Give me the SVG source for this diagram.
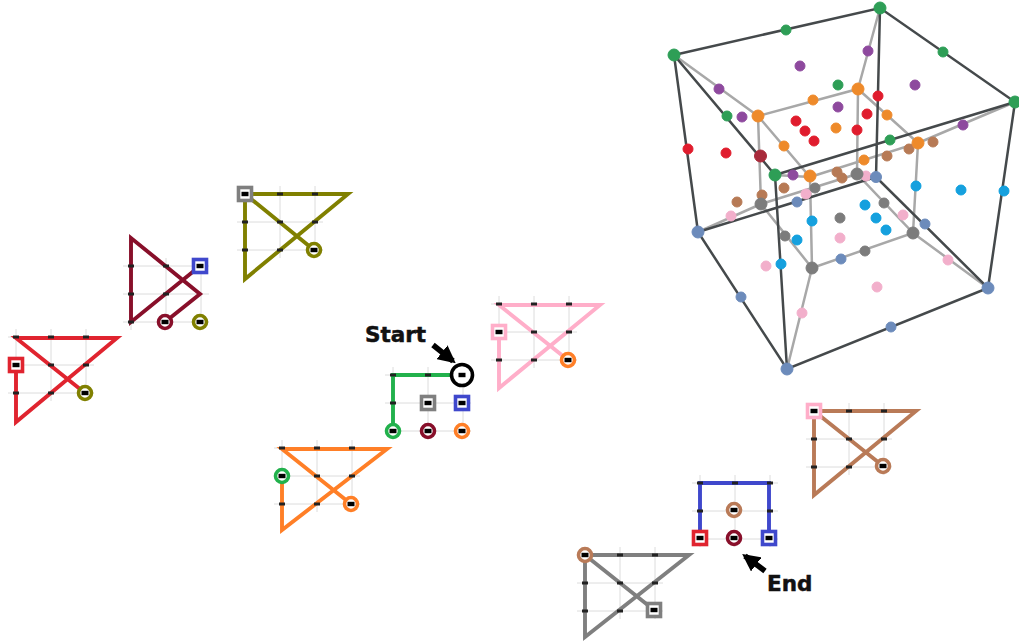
<svg xmlns="http://www.w3.org/2000/svg" width="1019" height="643" viewBox="0 0 1019 643">
<style>
.grid{fill:none;stroke:#dcdcdc;stroke-width:1}
.ticks{fill:none;stroke:#222;stroke-width:3}
.tr{fill:none;stroke-width:3.9;stroke-linejoin:miter;stroke-linecap:butt}
.ring{fill:#fff;stroke-width:3.6}
.c{fill:#000}
.red{stroke:#E0242F}.dred{stroke:#880F2A}.oli{stroke:#808000}.blu{stroke:#3F48CC}.grn{stroke:#22B14C}.org{stroke:#FF7F27}.pnk{stroke:#FFAEC9}.bro{stroke:#B97A57}.gry{stroke:#7F7F7F}.blk{stroke:#000}
.out{fill:none;stroke:#454a4c;stroke-width:2.5}
.inn{fill:none;stroke:#a8a8a8;stroke-width:2.5}
.arrow{fill:none;stroke:#000;stroke-width:5.5;marker-end:url(#head)}
.dg{fill:#2E9E57;stroke:#2E9E57}.dp{fill:#8E4A9E;stroke:#8E4A9E}.dr{fill:#E01F2D;stroke:#E01F2D}.do{fill:#EE8A2C;stroke:#EE8A2C}.db{fill:#B77A55;stroke:#B77A55}.dy{fill:#7C7C7C;stroke:#7C7C7C}.di{fill:#F2AFCB;stroke:#F2AFCB}.ds{fill:#6C8BBB;stroke:#6C8BBB}.dc{fill:#12A0DE;stroke:#12A0DE}.dd{fill:#A82A3A;stroke:#A82A3A}
#cube-vertices{stroke-width:1}
text{font-family:"DejaVu Sans",sans-serif;font-weight:bold;font-size:21.5px;fill:#111;stroke:#111;stroke-width:.5}
</style>
<defs>
<marker id="head" viewBox="0 0 10 10" refX="8" refY="5" markerWidth="3.2" markerHeight="3.2" orient="auto"><path d="M0 0L10 5L0 10Z" fill="#000"/></marker>
<filter id="soft" x="-5%" y="-5%" width="110%" height="110%"><feGaussianBlur stdDeviation="0.45"/></filter>
<path id="g" d="M-8 0H78M-8 28H78M-8 56H78M0 -8V64M35 -8V64M70 -8V64"/>
<path id="t" d="M-3 0h6M32 0h6M67 0h6M-3 28h6M32 28h6M67 28h6M-3 56h6M32 56h6M67 56h6"/>
<rect id="m" x="-3.5" y="-2.2" width="7" height="4.4"/>
<circle id="o" r="6.5"/>
<rect id="q" x="-6.5" y="-6.5" width="13" height="13"/>
</defs>
<rect width="1019" height="643" fill="#fff"/>
<g id="connectors">
<g id="cube-edges" filter="url(#soft)">
<path class="inn" d="M674 55L758 116M880 8L858 89M1015 102L918 143M775 175L810 177M698 232L761 204M787 369L812 268M988 288L913 233M876 177L857 174"/>
<path class="inn" d="M758 116L858 89L918 143L810 177ZM761 204L857 174L913 233L812 268ZM758 116L761 204M858 89L857 174M918 143L913 233M810 177L812 268"/>
<path class="out" d="M674 55L880 8L1015 102L775 175ZM698 232L876 177L988 288L787 369ZM674 55L698 232M880 8L876 177M1015 102L988 288M775 175L787 369"/>
</g>
<path id="arrow-start" class="arrow" d="M433 345L453 361"/>
<path id="arrow-end" class="arrow" d="M765 571L745 556"/>
</g>
<g id="cube-vertices" filter="url(#soft)">
<g id="g1" class="dg"><circle cx="674" cy="55" r="6"/></g><g id="g2" class="dg"><circle cx="880" cy="8" r="6"/></g><g id="g3" class="dg"><circle cx="1015" cy="102" r="6"/></g><g id="g4" class="dg"><circle cx="775" cy="175" r="6"/></g><g id="g5" class="dg"><circle cx="786" cy="30" r="5"/></g><g id="g6" class="dg"><circle cx="943" cy="52" r="5"/></g><g id="g7" class="dg"><circle cx="727" cy="116" r="5"/></g><g id="g8" class="dg"><circle cx="890" cy="140" r="5"/></g><g id="g9" class="dg"><circle cx="838" cy="85" r="5"/></g>
<g id="p1" class="dp"><circle cx="800" cy="66" r="5"/></g><g id="p2" class="dp"><circle cx="868" cy="51" r="5"/></g><g id="p3" class="dp"><circle cx="719" cy="89" r="5"/></g><g id="p4" class="dp"><circle cx="742" cy="117" r="5"/></g><g id="p5" class="dp"><circle cx="838" cy="107" r="5"/></g><g id="p6" class="dp"><circle cx="915" cy="85" r="5"/></g><g id="p7" class="dp"><circle cx="963" cy="125" r="5"/></g><g id="p8" class="dp"><circle cx="793" cy="175" r="5"/></g>
<g id="r1" class="dr"><circle cx="688" cy="149" r="5"/></g><g id="r2" class="dr"><circle cx="726" cy="153" r="5"/></g><g id="r3" class="dd"><circle cx="760.5" cy="156" r="6"/></g><g id="r4" class="dr"><circle cx="796" cy="121" r="5"/></g><g id="r5" class="dr"><circle cx="805" cy="131" r="5"/></g><g id="r6" class="dr"><circle cx="814" cy="141" r="5"/></g><g id="r7" class="dr"><circle cx="867" cy="114" r="5"/></g><g id="r8" class="dr"><circle cx="857" cy="130" r="5"/></g><g id="r9" class="dr"><circle cx="878" cy="96" r="5"/></g>
<g id="b1" class="db"><circle cx="933" cy="142" r="5"/></g><g id="b2" class="db"><circle cx="909" cy="149" r="5"/></g><g id="b3" class="db"><circle cx="887" cy="156" r="5"/></g><g id="b4" class="db"><circle cx="837" cy="172" r="5"/></g><g id="b5" class="db"><circle cx="842" cy="178" r="5"/></g><g id="b6" class="db"><circle cx="784" cy="188" r="5"/></g><g id="b7" class="db"><circle cx="737" cy="202" r="5"/></g><g id="b8" class="db"><circle cx="762" cy="195" r="5"/></g>
<g id="o1" class="do"><circle cx="758" cy="116" r="6"/></g><g id="o2" class="do"><circle cx="858" cy="89" r="6"/></g><g id="o3" class="do"><circle cx="813" cy="100" r="5"/></g><g id="o4" class="do"><circle cx="887" cy="115" r="5"/></g><g id="o5" class="do"><circle cx="784" cy="146" r="5"/></g><g id="o6" class="do"><circle cx="836" cy="128" r="5"/></g><g id="o7" class="do"><circle cx="810" cy="176" r="6"/></g><g id="o8" class="do"><circle cx="864" cy="160" r="5"/></g><g id="o9" class="do"><circle cx="918" cy="143" r="6"/></g>
<g id="i1" class="di"><circle cx="866" cy="176" r="5"/></g><g id="i2" class="di"><circle cx="806" cy="194" r="5"/></g><g id="i3" class="di"><circle cx="731" cy="216" r="5"/></g><g id="i4" class="di"><circle cx="903" cy="215" r="5"/></g><g id="i5" class="di"><circle cx="840" cy="238" r="5"/></g><g id="i6" class="di"><circle cx="766" cy="266" r="5"/></g><g id="i7" class="di"><circle cx="948" cy="260" r="5"/></g><g id="i8" class="di"><circle cx="877" cy="287" r="5"/></g><g id="i9" class="di"><circle cx="802" cy="313" r="5"/></g>
<g id="y1" class="dy"><circle cx="857" cy="174" r="6"/></g><g id="y2" class="dy"><circle cx="815" cy="188" r="5"/></g><g id="y3" class="dy"><circle cx="761" cy="204" r="6"/></g><g id="y4" class="dy"><circle cx="884" cy="203" r="5"/></g><g id="y5" class="dy"><circle cx="840" cy="218" r="5"/></g><g id="y6" class="dy"><circle cx="785" cy="236" r="5"/></g><g id="y7" class="dy"><circle cx="865" cy="251" r="5"/></g><g id="y8" class="dy"><circle cx="913" cy="233" r="6"/></g><g id="y9" class="dy"><circle cx="812" cy="268" r="6"/></g>
<g id="s1" class="ds"><circle cx="876" cy="177" r="5.5"/></g><g id="s2" class="ds"><circle cx="797" cy="202" r="5"/></g><g id="s3" class="ds"><circle cx="698" cy="232" r="6"/></g><g id="s4" class="ds"><circle cx="925" cy="224" r="5"/></g><g id="s5" class="ds"><circle cx="841" cy="259" r="5"/></g><g id="s6" class="ds"><circle cx="741" cy="297" r="5"/></g><g id="s7" class="ds"><circle cx="891" cy="327" r="5"/></g><g id="s8" class="ds"><circle cx="988" cy="288" r="6"/></g><g id="s9" class="ds"><circle cx="787" cy="369" r="6"/></g>
<g id="c1" class="dc"><circle cx="916" cy="186" r="5"/></g><g id="c2" class="dc"><circle cx="961" cy="190" r="5"/></g><g id="c3" class="dc"><circle cx="1004" cy="191" r="5"/></g><g id="c4" class="dc"><circle cx="865" cy="205" r="5"/></g><g id="c5" class="dc"><circle cx="812" cy="221" r="5"/></g><g id="c6" class="dc"><circle cx="876" cy="218" r="5"/></g><g id="c7" class="dc"><circle cx="886" cy="230" r="5"/></g><g id="c8" class="dc"><circle cx="797" cy="240" r="5"/></g><g id="c9" class="dc"><circle cx="781" cy="264" r="5"/></g>
</g>
<g id="panel-red" transform="translate(16 337)">
<use href="#g" class="grid"/><path class="tr red" d="M0 28V85L101 1H0L69 56"/><use href="#t" class="ticks"/>
<use href="#q" x="0" y="28" class="ring red"/><use href="#m" x="0" y="28" class="c"/><use href="#o" x="69" y="56" class="ring oli"/><use href="#m" x="69" y="56" class="c"/>
</g>
<g id="panel-darkred" transform="translate(131 266)">
<use href="#g" class="grid"/><path class="tr dred" d="M69 0L0 56V-28L69 28L34 56"/><path class="ticks" d="M-3 0h6M32 0h6M-3 28h6M32 28h6M-3 56h6"/>
<use href="#q" x="69" y="0" class="ring blu"/><use href="#m" x="69" y="0" class="c"/><use href="#o" x="34" y="56" class="ring dred"/><use href="#m" x="34" y="56" class="c"/><use href="#o" x="69" y="56" class="ring oli"/><use href="#m" x="69" y="56" class="c"/>
</g>
<g id="panel-olive" transform="translate(245 194)">
<use href="#g" class="grid"/><path class="tr oli" d="M0 0H103L0 85V0L69 56"/><use href="#t" class="ticks"/>
<use href="#q" class="ring gry"/><use href="#m" class="c"/><use href="#o" x="69" y="56" class="ring oli"/><use href="#m" x="69" y="56" class="c"/>
</g>
<g id="panel-green" transform="translate(393 375)">
<use href="#g" class="grid"/><path class="tr grn" d="M69 0H0V56"/><use href="#t" class="ticks"/>
<circle cx="69" cy="0" r="10.5" class="ring blk"/><use href="#m" x="69" class="c"/>
<use href="#q" x="35" y="28" class="ring gry"/><use href="#m" x="35" y="28" class="c"/><use href="#q" x="69" y="28" class="ring blu"/><use href="#m" x="69" y="28" class="c"/>
<use href="#o" x="0" y="56" class="ring grn"/><use href="#m" x="0" y="56" class="c"/><use href="#o" x="35" y="56" class="ring dred"/><use href="#m" x="35" y="56" class="c"/><use href="#o" x="69" y="56" class="ring org"/><use href="#m" x="69" y="56" class="c"/>
</g>
<g id="panel-orange" transform="translate(282 448)">
<use href="#g" class="grid"/><path class="tr org" d="M0 28V82L105 1H0L69 56"/><use href="#t" class="ticks"/>
<use href="#o" x="0" y="28" class="ring grn"/><use href="#m" x="0" y="28" class="c"/><use href="#o" x="69" y="56" class="ring org"/><use href="#m" x="69" y="56" class="c"/>
</g>
<g id="panel-pink" transform="translate(499 304)">
<use href="#g" class="grid"/><path class="tr pnk" d="M0 28V84L101 1H0L69 56"/><use href="#t" class="ticks"/>
<use href="#q" x="0" y="28" class="ring pnk"/><use href="#m" x="0" y="28" class="c"/><use href="#o" x="69" y="56" class="ring org"/><use href="#m" x="69" y="56" class="c"/>
</g>
<g id="panel-brown" transform="translate(814 411)">
<use href="#g" class="grid"/><path class="tr bro" d="M0 0H102L0 84V0L69 55"/><use href="#t" class="ticks"/>
<use href="#q" class="ring pnk"/><use href="#m" class="c"/><use href="#o" x="69" y="55" class="ring bro"/><use href="#m" x="69" y="55" class="c"/>
</g>
<g id="panel-blue" transform="translate(700 483)">
<use href="#g" class="grid"/><path class="tr blu" d="M0 55V0H69V55"/><use href="#t" class="ticks"/>
<use href="#q" x="0" y="55" class="ring red"/><use href="#m" x="0" y="55" class="c"/><use href="#q" x="69" y="55" class="ring blu"/><use href="#m" x="69" y="55" class="c"/>
<use href="#o" x="34" y="27" class="ring bro"/><use href="#m" x="34" y="27" class="c"/><use href="#o" x="34" y="55" class="ring dred"/><use href="#m" x="34" y="55" class="c"/>
</g>
<g id="panel-gray" transform="translate(585 555)">
<use href="#g" class="grid"/><path class="tr gry" d="M0 0H104L0 82V0L69 55"/><use href="#t" class="ticks"/>
<use href="#o" class="ring bro"/><use href="#m" class="c"/><use href="#q" x="69" y="55" class="ring gry"/><use href="#m" x="69" y="55" class="c"/>
</g>
<g id="label-start"><text x="365" y="342">Start</text></g>
<g id="label-end"><text x="767" y="591">End</text></g>
</svg>
